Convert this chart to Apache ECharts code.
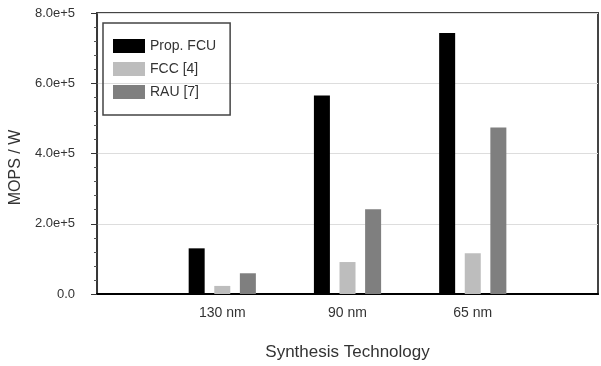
<!DOCTYPE html>
<html>
<head>
<meta charset="utf-8">
<script src="https://cdn.jsdelivr.net/npm/echarts@6/dist/echarts.min.js"></script>
<style>
html,body{margin:0;padding:0;background:#fff;}
#chart{width:601px;height:366px;}
</style>
</head>
<body>
<div id="chart"></div>
<script>
// Data
var categories = ['', '130 nm', '90 nm', '65 nm', ''];
var propFCU = ['-', 1.30e5, 5.65e5, 7.43e5, '-'];
var fcc = ['-', 0.23e5, 0.91e5, 1.16e5, '-'];
var rau = ['-', 0.59e5, 2.41e5, 4.74e5, '-'];
var yTickLabels = {0: '0.0', 200000: '2.0e+5', 400000: '4.0e+5', 600000: '6.0e+5', 800000: '8.0e+5'};

var chart = echarts.init(document.getElementById('chart'), null, {renderer: 'canvas'});
var font = '"Liberation Sans", Arial, sans-serif';
var option = {
  animation: false,
  backgroundColor: '#fff',
  textStyle: {fontFamily: font},
  grid: {left: 95, top: 13, right: -4, bottom: 71, show: true, borderColor: '#444', borderWidth: 2, backgroundColor: 'transparent'},
  legend: {
    orient: 'vertical', left: 103, top: 23,
    itemWidth: 32, itemHeight: 14, itemGap: 9,
    padding: [16, 14, 16, 10],
    borderColor: '#444', borderWidth: 1.5,
    icon: 'rect',
    textStyle: {fontFamily: font, fontSize: 14, color: '#333'},
    data: ['Prop. FCU', 'FCC [4]', 'RAU [7]']
  },
  xAxis: {
    type: 'category', data: categories, boundaryGap: false,
    axisLine: {lineStyle: {color: '#000', width: 2}},
    axisTick: {show: false},
    axisLabel: {fontSize: 14, color: '#333', margin: 12, fontFamily: font},
    splitLine: {show: false},
    name: 'Synthesis Technology', nameLocation: 'middle', nameGap: 50,
    nameTextStyle: {fontSize: 17, color: '#333', fontFamily: font}
  },
  yAxis: {
    type: 'value', min: 0, max: 800000, interval: 200000,
    axisLine: {show: true, lineStyle: {color: '#333', width: 1.5}},
    axisTick: {show: true, length: 6, lineStyle: {color: '#333'}},
    minorTick: {show: true, splitNumber: 5, length: 3, lineStyle: {color: '#555'}},
    axisLabel: {fontSize: 13, color: '#333', margin: 22, fontFamily: font,
      formatter: function (v) { return yTickLabels[v] !== undefined ? yTickLabels[v] : ''; }},
    splitLine: {show: true, lineStyle: {color: '#ddd', width: 1}},
    name: 'MOPS / W', nameLocation: 'middle', nameGap: 70,
    nameTextStyle: {fontSize: 16, color: '#333', fontFamily: font, padding: [0, 28, 0, 0]}
  },
  series: [
    {name: 'Prop. FCU', type: 'bar', data: propFCU, barWidth: 16, barGap: '60%', itemStyle: {color: '#000'}},
    {name: 'FCC [4]', type: 'bar', data: fcc, barWidth: 16, barGap: '60%', itemStyle: {color: '#bdbdbd'}},
    {name: 'RAU [7]', type: 'bar', data: rau, barWidth: 16, barGap: '60%', itemStyle: {color: '#7f7f7f'}}
  ]
};
chart.setOption(option);
</script>
</body>
</html>
